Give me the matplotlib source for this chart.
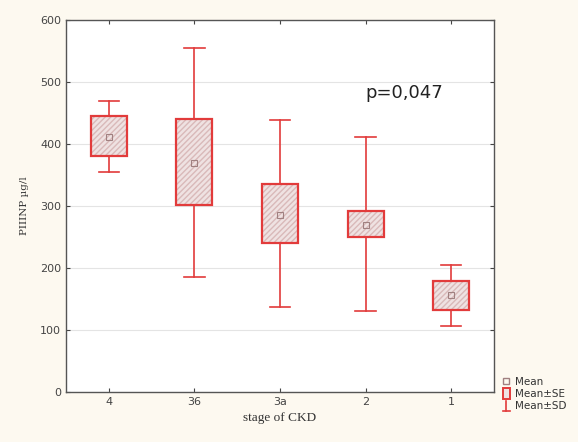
import numpy as np
import matplotlib.pyplot as plt
from matplotlib.patches import Rectangle
from matplotlib.lines import Line2D
from matplotlib.legend_handler import HandlerBase

# stage of CKD groups and summary values
stages = ['4', '36', '3a', '2', '1']
means = [412, 370, 286, 270, 156]
se_low = [380, 301, 240, 250, 132]
se_high = [445, 440, 336, 292, 179]
sd_low = [355, 186, 137, 131, 107]
sd_high = [470, 555, 438, 412, 205]

red = '#e23b3b'
bg = '#fdf9f0'

fig = plt.figure(figsize=(5.78, 4.42), dpi=100, facecolor=bg)
ax = fig.add_axes([66 / 578, 1 - 392 / 442, 428 / 578, 372 / 442])

x = np.arange(len(stages))
box_w = 0.42
cap_w = 0.24
for i in x:
    ax.plot([i, i], [sd_low[i], se_low[i]], color=red, lw=1.2, zorder=3)
    ax.plot([i, i], [se_high[i], sd_high[i]], color=red, lw=1.2, zorder=3)
    for v in (sd_low[i], sd_high[i]):
        ax.plot([i - cap_w / 2, i + cap_w / 2], [v, v], color=red, lw=1.2, zorder=3)
    ax.add_patch(Rectangle((i - box_w / 2, se_low[i]), box_w, se_high[i] - se_low[i],
                           facecolor='#efe2e2', edgecolor='#d9b9b9', hatch='//////',
                           lw=0, zorder=3))
    ax.add_patch(Rectangle((i - box_w / 2, se_low[i]), box_w, se_high[i] - se_low[i],
                           facecolor='none', edgecolor=red, lw=1.6, zorder=4))
    ax.plot(i, means[i], marker='s', ms=4.5, mfc='none', mec='#a08080', mew=0.8, zorder=5)

ax.set_xlim(-0.5, 4.5)
ax.set_ylim(0, 600)
ax.set_xticks(x)
ax.set_xticklabels(stages)
ax.set_yticks(np.arange(0, 601, 100))
ax.yaxis.grid(True, color='#e4e4e4', lw=0.8)
ax.set_axisbelow(True)
ax.tick_params(direction='in', top=True, right=True, labelsize=8, colors='#444444',
               length=3)
for s in ax.spines.values():
    s.set_color('#555555')
    s.set_linewidth(1.0)

ax.set_ylabel('PIIINP µg/l', family='DejaVu Serif', fontsize=7.5, color='#333333',
              labelpad=8)
ax.set_xlabel('stage of CKD', family='Liberation Serif', fontsize=9.5, color='#333333')
ax.text(3.45, 482, 'p=0,047', fontsize=13, color='#222222', ha='center', va='center')


# legend entries drawn as small glyphs like the original
class BoxHandler(HandlerBase):
    def create_artists(self, legend, orig, xd, yd, w, h, fs, trans):
        r = Rectangle((xd + w * 0.15, yd - h * 0.3), w * 0.7, h * 1.5, facecolor='#efe2e2',
                      edgecolor=red, lw=1.4, transform=trans)
        return [r]


class SDHandler(HandlerBase):
    def create_artists(self, legend, orig, xd, yd, w, h, fs, trans):
        cx = xd + w / 2
        l1 = Line2D([cx, cx], [yd - h * 0.3, yd + h * 1.1], color=red, lw=1.2, transform=trans)
        l2 = Line2D([cx - w * 0.35, cx + w * 0.35], [yd - h * 0.3, yd - h * 0.3], color=red,
                    lw=1.2, transform=trans)
        return [l1, l2]


mean_h = Line2D([], [], marker='s', ms=4, mfc='none', mec='#a08080', ls='none')
box_h = Rectangle((0, 0), 1, 1)
sd_h = Line2D([], [])
fig.legend([mean_h, box_h, sd_h], ['Mean', 'Mean±SE', 'Mean±SD'],
           handler_map={box_h: BoxHandler(), sd_h: SDHandler()},
           loc='lower left', bbox_to_anchor=(494 / 578, 24 / 442), frameon=False,
           fontsize=7.5, handlelength=1.0, handletextpad=0.3, labelspacing=0.2,
           borderpad=0.2, labelcolor='#333333')

fig.savefig('out.png', dpi=100, facecolor=bg)
